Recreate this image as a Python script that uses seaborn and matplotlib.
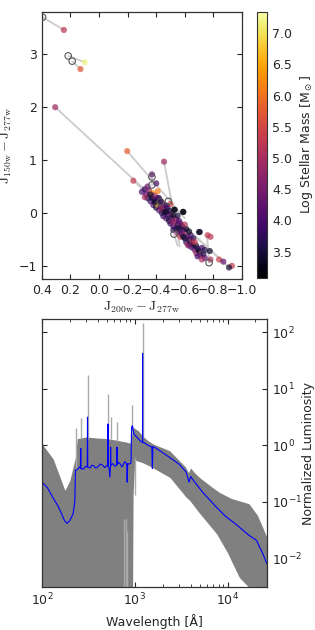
import numpy as np
import matplotlib
matplotlib.use("Agg")
import matplotlib.pyplot as plt
from matplotlib.colors import Normalize
from matplotlib.cm import ScalarMappable
import seaborn as sns
import pandas as pd

# ---- top panel: colour-colour diagram ----
col_x = [-0.30, -0.32, -0.33, -0.34, -0.35, -0.36, -0.37, -0.37, -0.38, -0.38,
         -0.39, -0.40, -0.40, -0.41, -0.41, -0.42, -0.42, -0.43, -0.44, -0.44,
         -0.45, -0.45, -0.46, -0.47, -0.47, -0.48, -0.48, -0.49, -0.50, -0.50,
         -0.50, -0.51, -0.52, -0.52, -0.53, -0.53, -0.54, -0.54, -0.55, -0.55,
         -0.56, -0.56, -0.57, -0.57, -0.58, -0.58, -0.59, -0.59, -0.60, -0.60,
         -0.61, -0.61, -0.62, -0.62, -0.63, -0.64, -0.64, -0.65, -0.65, -0.66,
         -0.67, -0.68, -0.68, -0.69, -0.70, -0.70, -0.71, -0.72, -0.73, -0.74,
         -0.76, -0.78, -0.775, -0.78, -0.84, -0.87, -0.93, -0.91,
         -0.36, -0.39, -0.41, -0.43, -0.44, -0.46, -0.47, -0.49, -0.51, -0.52,
         -0.55, -0.57, -0.59, -0.60, -0.63, -0.63, -0.66, -0.67, -0.69, -0.72,
         -0.74, -0.34, -0.32,
         -0.37, -0.40, -0.455, -0.24, -0.197, 0.307, 0.246, 0.10, 0.13,
         -0.525, -0.588, -0.705]
col_y = [0.40, 0.45, 0.35, 0.28, 0.42, 0.22, 0.30, 0.38, 0.15, 0.26,
         0.33, 0.10, 0.22, 0.16, 0.41, 0.05, 0.28, 0.12, 0.00, 0.20,
         -0.06, 0.08, 0.15, -0.10, 0.02, -0.05, 0.10, -0.15, -0.02, -0.20,
         0.17, -0.10, -0.25, -0.05, -0.18, 0.06, -0.30, -0.12, -0.22, -0.38,
         -0.28, -0.15, -0.35, -0.45, -0.25, -0.40, 0.02, -0.32, -0.48, -0.38,
         -0.55, -0.30, -0.45, -0.60, -0.50, -0.58, -0.42, -0.65, -0.52, -0.60,
         -0.70, -0.62, -0.76, -0.68, -0.72, -0.36, -0.80, -0.66, -0.78, -0.85,
         -0.42, -0.45, -0.72, -0.88, -0.88, -0.92, -1.00, -1.03,
         0.35, 0.20, 0.28, 0.22, 0.08, 0.02, 0.14, 0.04, -0.15, -0.32,
         -0.05, -0.20, -0.45, -0.22, -0.35, -0.62, -0.48, -0.55, -0.82, -0.88,
         -0.70, 0.50, 0.30,
         0.73, 0.56, 0.97, 0.61, 1.17, 2.00, 3.46, 2.85, 2.72,
         0.06, 0.02, -0.36]
log_mass = [4.0, 3.8, 4.2, 3.5, 4.6, 3.9, 3.3, 6.3, 4.1, 3.6,
            4.8, 3.4, 3.7, 6.8, 6.1, 4.3, 3.5, 3.9, 3.6, 4.5,
            3.8, 3.3, 5.0, 4.2, 3.5, 3.7, 4.0, 3.4, 4.4, 3.9,
            5.5, 3.6, 4.1, 3.3, 5.2, 3.2, 3.5, 4.7, 3.8, 4.9,
            3.4, 4.0, 3.6, 5.4, 3.3, 4.2, 3.2, 3.9, 3.5, 4.8,
            3.7, 3.4, 4.3, 5.0, 3.6, 3.3, 4.1, 3.8, 5.1, 3.5,
            4.4, 3.4, 4.9, 3.7, 3.3, 3.4, 4.6, 3.9, 3.5, 4.2,
            5.3, 5.2, 3.4, 5.1, 5.4, 4.3, 5.3, 3.4,
            3.5, 3.4, 4.0, 3.6, 4.9, 3.4, 3.8, 3.5, 4.6, 3.7,
            3.5, 4.3, 3.4, 5.1, 3.3, 4.5, 3.7, 5.3, 3.9, 5.0,
            3.6, 4.4, 5.0,
            4.3, 4.0, 4.9, 5.3, 5.8, 4.9, 5.2, 7.2, 5.7,
            3.2, 3.2, 3.3]

open_x = [0.395, 0.216, 0.188, -0.37, -0.37, -0.43, -0.485, -0.525, -0.77]
open_y = [3.70, 2.97, 2.87, 0.68, 0.53, 0.21, 0.22, -0.40, -0.94]

seg_x0 = [0.395, 0.216, 0.188, 0.307, -0.197, -0.455, -0.24, -0.77, -0.525, -0.37]
seg_y0 = [3.70, 2.97, 2.87, 2.00, 1.17, 0.97, 0.61, -0.94, -0.40, 0.53]
seg_x1 = [0.246, 0.10, 0.13, -0.91, -0.60, -0.565, -0.87, -0.756, -0.55, -0.37]
seg_y1 = [3.46, 2.85, 2.72, -1.03, -0.10, -0.63, -0.92, -0.42, -0.62, 0.73]

mass_range = (3.08, 7.34)
cbar_ticks = [3.5, 4.0, 4.5, 5.0, 5.5, 6.0, 6.5, 7.0]

# ---- bottom panel: spectra ----
hi_wave = [100, 132, 156, 177, 200, 217, 230, 240, 300, 400, 500, 600, 700, 800,
           900, 912, 1000, 1100, 1200, 1400, 1600, 2370, 3500, 3800, 4000, 4400,
           5000, 6900, 8150, 11000, 17000, 21000, 24000, 27000]
hi_lum = [1.07, 0.58, 0.28, 0.16, 0.24, 0.42, 0.62, 1.32, 1.41, 1.35, 1.32, 1.26, 1.20, 1.15,
          1.10, 2.2, 2.0, 1.8, 1.5, 1.2, 1.05, 0.81, 0.42, 0.33, 0.40, 0.33,
          0.27, 0.18, 0.148, 0.115, 0.093, 0.058, 0.035, 0.022]
lo_wave = [100, 940, 960, 1000, 1200, 1500, 2400, 3600, 3900, 5000, 7600, 10000,
           13400, 18000, 27000]
lo_lum = [1e-4, 1e-4, 0.13, 0.55, 0.50, 0.42, 0.27, 0.12, 0.107, 0.063, 0.0275, 0.0126,
          0.0046, 0.0028, 1e-4]

spike_wave = [232, 262, 310, 516, 550, 645, 935, 1216, 760, 800, 835, 1000]
spike_base = [0.4, 1.3, 1.3, 1.3, 1.3, 1.2, 1.5, 1.4, 1e-4, 1e-4, 1e-4, 0.13]
spike_top = [2.0, 3.0, 17.4, 8.3, 3.2, 2.6, 5.2, 145, 0.05, 0.05, 0.03, 0.6]

med_wave = [100, 115, 131, 150, 163, 175, 187, 200, 217, 226, 230, 240, 255, 260, 262, 264,
            280, 295, 300, 308, 310, 312, 330, 345, 360, 380, 400, 425, 450, 475, 500, 514,
            516, 518, 530, 540, 548, 550, 552, 575, 600, 620, 643, 645, 647, 670, 700, 725,
            750, 775, 800, 820, 830, 840, 870, 900, 912, 925, 945, 980, 1050, 1150, 1214,
            1216, 1218, 1260, 1400, 1530, 1550, 1570, 1700, 2370, 3000, 3580, 3850, 4000,
            4300, 5400, 7560, 9600, 12000, 17000, 20500, 23900, 26500]
med_logL = [-0.65, -0.75, -0.92, -1.08, -1.21, -1.33, -1.38, -1.33, -1.21, -1.00, -0.44, -0.43,
            -0.38, -0.40, -0.05, -0.41, -0.42, -0.37, -0.38, -0.38, 0.50, -0.38, -0.40, -0.35,
            -0.36, -0.40, -0.38, -0.33, -0.35, -0.39, -0.36, -0.36, 0.38, -0.38, -0.40, -0.56,
            -0.36, -0.03, -0.36, -0.32, -0.35, -0.37, -0.34, -0.03, -0.34, -0.30, -0.33, -0.38,
            -0.35, -0.29, -0.30, -0.34, -0.65, -0.32, -0.33, -0.32, -0.30, 0.32, 0.35, 0.20,
            0.15, 0.08, 0.05, 1.63, 0.05, 0.05, 0.00, -0.03, -0.41, -0.02, -0.05, -0.21,
            -0.33, -0.47, -0.65, -0.55, -0.62, -0.83, -1.09, -1.26, -1.38, -1.59, -1.68,
            -1.91, -2.09]

sns.set_style("ticks")
plt.rcParams.update({
    "font.family": ["DejaVu Sans"],
    "xtick.direction": "in", "ytick.direction": "in",
    "xtick.top": True, "ytick.right": True,
    "xtick.labelsize": 9, "ytick.labelsize": 9,
    "axes.edgecolor": "#333333", "axes.linewidth": 0.9,
})

fig = plt.figure(figsize=(3.15, 6.3), dpi=100)
ax1 = fig.add_axes([0.133, 0.557, 0.635, 0.424])
cax = fig.add_axes([0.816, 0.559, 0.032, 0.422])
ax2 = fig.add_axes([0.133, 0.068, 0.714, 0.425])

# tracks
for x0, y0, x1, y1 in zip(seg_x0, seg_y0, seg_x1, seg_y1):
    ax1.plot([x0, x1], [y0, y1], color="#cccccc", lw=1.3, zorder=1)

df = pd.DataFrame({"x": col_x, "y": col_y, "mass": log_mass})
sns.scatterplot(data=df, x="x", y="y", hue="mass", palette="inferno",
                hue_norm=mass_range, s=20, alpha=0.7, edgecolor="none",
                legend=False, ax=ax1, zorder=2)
ax1.scatter(open_x, open_y, s=22, facecolors="none", edgecolors="#555555",
            linewidths=0.8, zorder=3)

ax1.set_xlim(0.4, -1.0)
ax1.set_ylim(-1.25, 3.8)
ax1.set_xticks(np.arange(0.4, -1.01, -0.2))
ax1.set_yticks([-1, 0, 1, 2, 3])
ax1.set_xlabel(r"$\mathrm{J_{200w} - J_{277w}}$", fontsize=10, math_fontfamily="cm")
ax1.set_ylabel(r"$\mathrm{J_{150w} - J_{277w}}$", fontsize=10, math_fontfamily="cm")
ax1.yaxis.set_label_coords(-0.14, 0.5)
ax1.xaxis.set_label_coords(0.5, -0.075)

sm = ScalarMappable(norm=Normalize(*mass_range), cmap="inferno")
cb = fig.colorbar(sm, cax=cax, ticks=cbar_ticks)
cb.ax.tick_params(labelsize=9, direction="in", length=3)
cb.outline.set_linewidth(0.8)
cb.set_label(r"Log Stellar Mass [M$_\odot$]", fontsize=9)

# spectra: envelope on a shared wavelength grid (log-log straight edges)
grid = np.unique(np.r_[hi_wave, lo_wave]).astype(float)
env_hi = 10 ** np.interp(np.log10(grid), np.log10(hi_wave), np.log10(hi_lum))
env_lo = 10 ** np.interp(np.log10(grid), np.log10(lo_wave), np.log10(lo_lum))
ax2.fill_between(grid, env_lo, env_hi, color="#808080", lw=0, zorder=1)
ax2.vlines(spike_wave, spike_base, spike_top, color="#aaaaaa", lw=1.0, zorder=1.5)
sns.lineplot(x=med_wave, y=10 ** np.array(med_logL), color="blue", lw=0.8,
             sort=False, estimator=None, ax=ax2, zorder=2)
ax2.set_xscale("log")
ax2.set_yscale("log")
ax2.set_xlim(100, 26500)
ax2.set_ylim(3.1e-3, 170)
ax2.yaxis.tick_right()
ax2.yaxis.set_label_position("right")
ax2.tick_params(axis="y", which="both", left=True, right=True, direction="in")
ax2.tick_params(axis="x", which="both", top=True, direction="in")
ax2.tick_params(axis="y", which="minor", length=0)
ax2.set_xlabel("Wavelength [Å]", fontsize=9)
ax2.set_ylabel("Normalized Luminosity", fontsize=9)
ax2.yaxis.set_label_coords(1.155, 0.5)

fig.savefig("out.png", dpi=100)
